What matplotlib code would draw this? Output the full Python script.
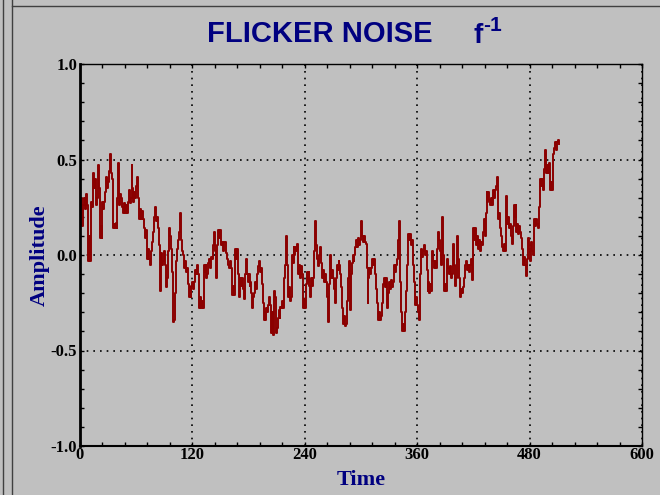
import matplotlib
matplotlib.use("Agg")
import matplotlib.pyplot as plt
from matplotlib.lines import Line2D
from matplotlib.ticker import MultipleLocator

# amplitude per time step
amplitude = [
    0.20, 0.30, 0.15, 0.26, 0.30, 0.24, 0.32, 0.28, 0.26, -0.03, 0.10, -0.03, 0.28, 0.25, 0.43, 0.35, 0.40, 0.26, 0.30, 0.47,
    0.35, 0.09, 0.15, 0.09, 0.28, 0.24, 0.28, 0.33, 0.41, 0.35, 0.38, 0.44, 0.53, 0.43, 0.40, 0.14, 0.16, 0.14, 0.17, 0.14,
    0.30, 0.48, 0.26, 0.32, 0.30, 0.25, 0.22, 0.27, 0.22, 0.26, 0.22, 0.28, 0.34, 0.27, 0.30, 0.47, 0.35, 0.28, 0.33, 0.30,
    0.36, 0.41, 0.30, 0.19, 0.24, 0.19, 0.23, 0.19, 0.14, 0.09, 0.13, 0.09, -0.02, 0.03, -0.02, -0.05, 0.02, 0.07, 0.12, 0.20,
    0.25, 0.18, 0.20, 0.14, 0.05, -0.19, -0.03, 0.01, -0.05, -0.03, 0.02, -0.05, -0.17, -0.12, 0.02, 0.14, 0.10, 0.03, -0.09, -0.35,
    -0.34, -0.20, -0.10, -0.03, 0.03, 0.08, 0.12, 0.22, 0.08, 0.02, 0.00, -0.07, -0.03, -0.09, -0.07, -0.15, -0.22, -0.17, -0.22, -0.16,
    -0.14, -0.18, -0.14, -0.08, -0.10, -0.05, -0.10, -0.28, -0.22, -0.28, -0.24, -0.28, -0.05, -0.09, -0.05, -0.12, -0.10, -0.04, -0.02, -0.07,
    -0.01, -0.02, 0.05, 0.12, 0.02, -0.12, 0.05, 0.13, 0.09, 0.13, 0.10, 0.05, 0.07, 0.02, 0.07, 0.07, 0.01, -0.02, -0.05, -0.07,
    -0.03, -0.07, -0.21, -0.16, -0.21, -0.05, 0.03, -0.02, 0.03, -0.10, -0.22, -0.12, -0.16, -0.12, -0.18, -0.23, -0.10, -0.02, -0.10, -0.14,
    -0.10, -0.16, -0.14, -0.20, -0.28, -0.22, -0.20, -0.14, -0.18, -0.10, -0.06, -0.03, -0.09, -0.07, -0.15, -0.25, -0.34, -0.30, -0.34, -0.28,
    -0.30, -0.26, -0.22, -0.26, -0.41, -0.30, -0.42, -0.19, -0.22, -0.41, -0.38, -0.33, -0.29, -0.33, -0.27, -0.28, -0.24, -0.28, -0.12, -0.05,
    0.10, -0.05, -0.22, -0.17, -0.24, -0.22, 0.00, -0.04, 0.04, 0.00, 0.04, 0.02, 0.06, -0.10, -0.05, -0.12, -0.06, -0.10, -0.28, -0.23,
    -0.28, -0.15, -0.09, -0.14, -0.09, -0.16, -0.22, -0.12, -0.16, -0.12, 0.02, 0.18, 0.05, -0.02, -0.06, 0.00, 0.04, -0.04, -0.12, -0.08,
    -0.12, -0.14, -0.10, -0.14, -0.22, -0.35, -0.15, 0.00, -0.12, -0.08, -0.12, -0.18, -0.25, -0.12, -0.05, -0.08, -0.03, -0.05, -0.10, -0.17,
    -0.28, -0.36, -0.32, -0.37, -0.36, -0.24, -0.12, -0.03, -0.29, -0.10, -0.04, 0.00, -0.03, 0.00, 0.04, 0.08, 0.04, 0.09, 0.05, 0.08,
    0.18, 0.10, 0.07, 0.10, 0.07, 0.06, -0.07, -0.25, -0.12, -0.07, -0.10, -0.07, -0.02, -0.05, -0.02, -0.10, -0.18, -0.25, -0.34, -0.30,
    -0.34, -0.32, -0.25, -0.19, -0.15, -0.12, -0.17, -0.12, -0.28, -0.20, -0.14, -0.18, -0.13, -0.17, -0.14, -0.05, -0.09, -0.05, -0.02, 0.00,
    0.08, 0.18, -0.14, -0.30, -0.40, -0.36, -0.40, -0.30, -0.19, -0.05, 0.11, 0.08, 0.11, 0.05, 0.08, 0.05, -0.05, -0.14, -0.26, -0.22,
    -0.26, -0.30, -0.34, -0.10, 0.03, -0.01, 0.02, 0.05, 0.00, 0.02, -0.08, -0.19, -0.14, -0.20, -0.15, -0.19, 0.02, -0.03, -0.07, -0.03,
    -0.07, 0.03, 0.12, 0.08, 0.02, -0.05, 0.08, 0.20, 0.00, -0.19, -0.15, -0.19, -0.02, -0.07, -0.10, -0.06, -0.12, -0.10, 0.06, -0.05,
    -0.16, -0.12, -0.02, 0.10, -0.02, -0.12, -0.22, -0.18, -0.20, -0.17, -0.12, -0.05, -0.03, -0.08, -0.05, -0.09, -0.05, -0.02, -0.05, -0.13,
    0.14, 0.08, 0.14, 0.05, 0.10, 0.03, 0.08, 0.02, 0.07, 0.05, 0.12, 0.19, 0.10, 0.22, 0.33, 0.28, 0.33, 0.29, 0.26, 0.30,
    0.26, 0.34, 0.30, 0.34, 0.36, 0.41, 0.19, 0.22, 0.14, 0.10, 0.07, 0.04, 0.02, 0.06, 0.02, 0.31, 0.16, 0.20, 0.14, 0.16,
    0.10, 0.06, 0.15, 0.26, 0.20, 0.26, 0.12, 0.16, 0.11, 0.15, 0.12, 0.09, 0.03, -0.05, -0.01, -0.05, -0.11, -0.02, 0.09, 0.03,
    -0.03, 0.03, 0.07, 0.02, 0.00, 0.19, 0.15, 0.19, 0.16, 0.14, 0.25, 0.40, 0.36, 0.40, 0.34, 0.45, 0.55, 0.47, 0.43, 0.47,
    0.43, 0.48, 0.34, 0.38, 0.34, 0.53, 0.56, 0.59, 0.55, 0.59, 0.60, 0.58,
]
time = list(range(len(amplitude)))

bg = "#c0c0c0"
navy = "#000080"

fig = plt.figure(figsize=(6.6, 4.95), dpi=100, facecolor=bg)
ax = fig.add_axes([80 / 660, 1 - 446 / 495, 562 / 660, 382 / 495], facecolor=bg)

ax.plot(time, amplitude, drawstyle="steps-post", color="#8b0000", lw=1.4)

ax.set_xlim(0, 600)
ax.set_ylim(-1, 1)
ax.xaxis.set_major_locator(MultipleLocator(120))
ax.xaxis.set_minor_locator(MultipleLocator(24))
ax.yaxis.set_major_locator(MultipleLocator(0.5))
ax.yaxis.set_minor_locator(MultipleLocator(0.1))
ax.yaxis.set_major_formatter(lambda v, p: f"{v:.1f}")

ax.grid(True, which="major", color="black", linestyle=(0, (1, 3)), lw=1.2)
ax.tick_params(which="both", direction="in", top=True, right=True, length=3, width=1)
ax.tick_params(axis="x", which="major", pad=1)
ax.tick_params(axis="y", which="major", pad=2)
for lbl in ax.get_xticklabels() + ax.get_yticklabels():
    lbl.set_family("Liberation Serif")
    lbl.set_fontweight("bold")
    lbl.set_fontsize(12)

ax.spines["left"].set_linewidth(2)
ax.spines["bottom"].set_linewidth(1.5)
ax.spines["top"].set_linewidth(1)
ax.spines["right"].set_linewidth(1)

ax.set_xlabel("Time", family="Liberation Serif", fontweight="bold", fontsize=16,
              color=navy, labelpad=5)
ax.set_ylabel("Amplitude", family="Liberation Serif", fontweight="bold", fontsize=16,
              color=navy, labelpad=1)

# title
fig.text(320 / 660, 1 - 34 / 495, "FLICKER NOISE", ha="center", va="center",
         family="Liberation Sans", fontweight="bold", fontsize=21, color=navy)
fig.text(474 / 660, 1 - 43 / 495, "f", ha="left", va="baseline",
         family="Liberation Sans", fontweight="bold", fontsize=20, color=navy)
fig.text(483 / 660, 1 - 31 / 495, "-1", ha="left", va="baseline",
         family="Liberation Sans", fontweight="bold", fontsize=15, color=navy)

# window frame lines
for x in (3 / 660, 12 / 660):
    fig.add_artist(Line2D([x, x], [0, 1], color="#404040", lw=1))
fig.add_artist(Line2D([12 / 660, 1], [1 - 6 / 495, 1 - 6 / 495], color="#404040", lw=1))

fig.savefig("out.png", dpi=100, facecolor=bg)
